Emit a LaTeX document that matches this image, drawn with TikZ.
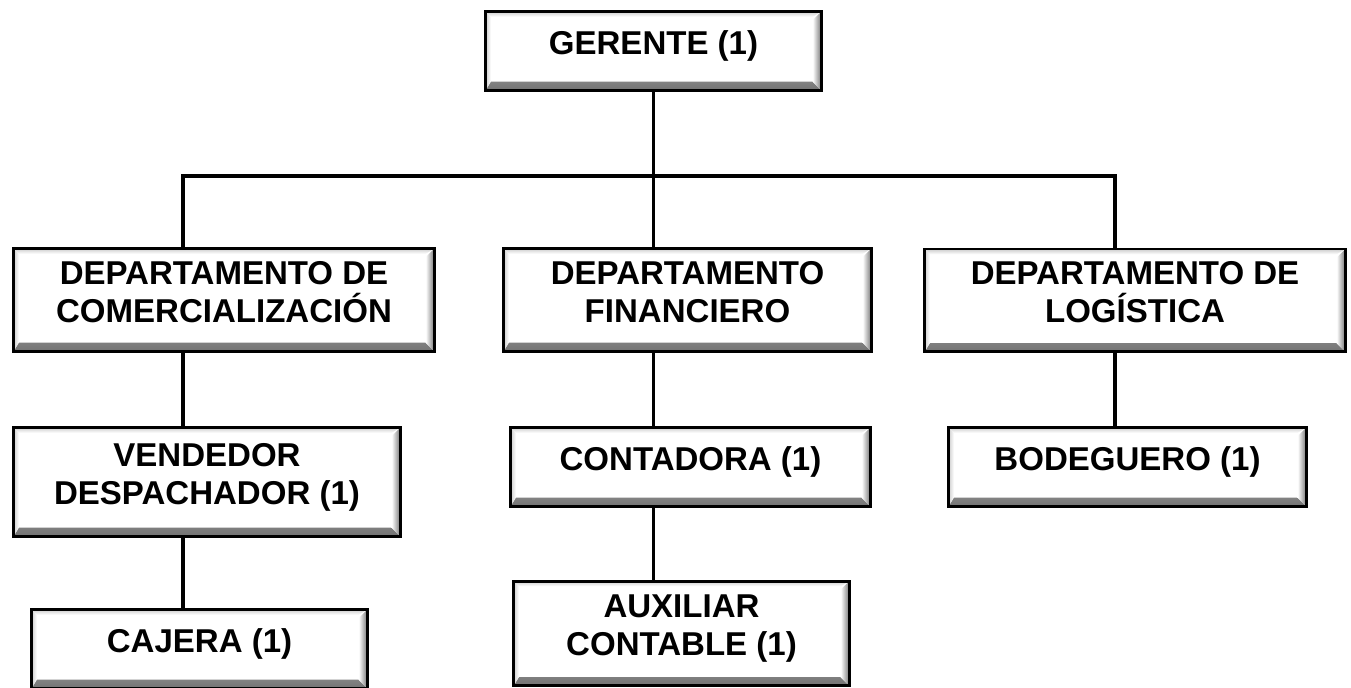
\documentclass[tikz,border=0pt]{standalone}
\usepackage{fontspec}
\setmainfont{Liberation Sans}
\tikzset{
  orgbox/.style={draw, line width=1.7pt, fill=white, align=center,
    font=\bfseries\fontsize{18.8}{21.5}\selectfont, text depth=9.5pt,
    path picture={
      % bevel: dark right and bottom edges, light top and left edges
      \shade[top color=white, bottom color=black!55]
        (path picture bounding box.south west)
        -- ([shift={(3pt,5pt)}]path picture bounding box.south west)
        -- ([shift={(-5pt,5pt)}]path picture bounding box.south east)
        -- (path picture bounding box.south east) -- cycle;
      \shade[left color=white, right color=black!55]
        (path picture bounding box.north east)
        -- ([shift={(-5pt,-5pt)}]path picture bounding box.north east)
        -- ([shift={(-5pt,5pt)}]path picture bounding box.south east)
        -- (path picture bounding box.south east) -- cycle;
      \shade[right color=white, left color=black!20]
        (path picture bounding box.north west)
        -- ([shift={(3pt,-3pt)}]path picture bounding box.north west)
        -- ([shift={(3pt,5pt)}]path picture bounding box.south west)
        -- (path picture bounding box.south west) -- cycle;
      \shade[bottom color=white, top color=black!20]
        (path picture bounding box.north west)
        -- ([shift={(3pt,-3pt)}]path picture bounding box.north west)
        -- ([shift={(-5pt,-3pt)}]path picture bounding box.north east)
        -- (path picture bounding box.north east) -- cycle;
    }},
  link/.style={line width=1.8pt}
}
\begin{document}
\begin{tikzpicture}[x=0.02cm, y=-0.02cm]
\useasboundingbox (0,0) rectangle (1351,688);

% Top level
\node[orgbox, minimum width=6.72cm, minimum height=1.58cm] (ger) at (653.5,51) {GERENTE (1)};

% Departments
\node[orgbox, minimum width=8.42cm, minimum height=2.06cm] (com) at (224,300) {DEPARTAMENTO DE\\COMERCIALIZACIÓN};
\node[orgbox, minimum width=7.36cm, minimum height=2.06cm] (fin) at (687.5,300) {DEPARTAMENTO\\FINANCIERO};
\node[orgbox, minimum width=8.42cm, minimum height=2.06cm] (log) at (1135,300.5) {DEPARTAMENTO DE\\LOGÍSTICA};

% Staff
\node[orgbox, minimum width=7.74cm, minimum height=2.18cm] (ven) at (207,482) {VENDEDOR\\DESPACHADOR (1)};
\node[orgbox, minimum width=7.20cm, minimum height=1.58cm] (con) at (690.5,467) {CONTADORA (1)};
\node[orgbox, minimum width=7.16cm, minimum height=1.58cm] (bod) at (1127.5,467) {BODEGUERO (1)};
\node[orgbox, minimum width=6.72cm, minimum height=1.58cm] (caj) at (199.5,649) {CAJERA (1)};
\node[orgbox, minimum width=6.72cm, minimum height=2.10cm] (aux) at (681.5,633.5) {AUXILIAR\\CONTABLE (1)};

% Connectors
\coordinate (barL) at (183,176);
\coordinate (barR) at (1115,176);
\draw[link] (ger.south) -- (ger.south |- fin.north);
\draw[link] (barL |- com.north) -- (barL) -- (barR) -- (barR |- log.north);
\draw[link] (barL |- com.south) -- (barL |- ven.north);
\draw[link] (barL |- ven.south) -- (barL |- caj.north);
\draw[link] (ger.south |- fin.south) -- (ger.south |- con.north);
\draw[link] (ger.south |- con.south) -- (ger.south |- aux.north);
\draw[link] (barR |- log.south) -- (barR |- bod.north);
\end{tikzpicture}
\end{document}
